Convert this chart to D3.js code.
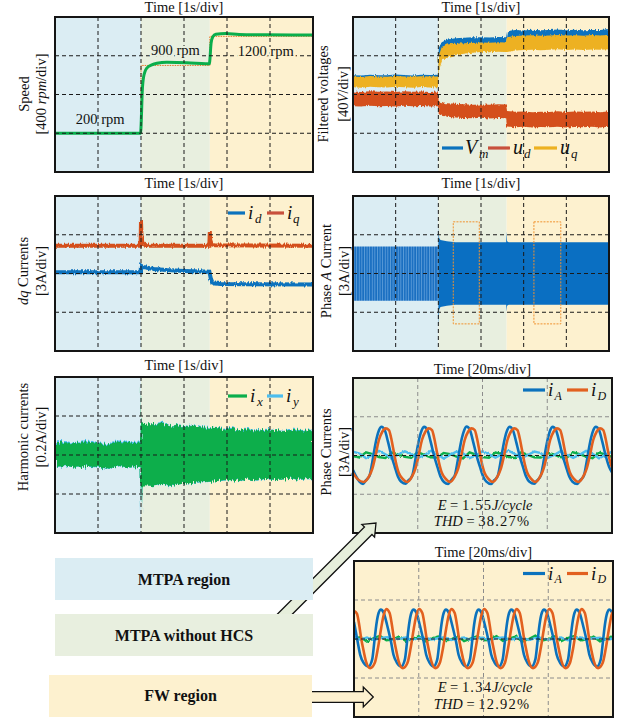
<!DOCTYPE html>
<html>
<head>
<meta charset="utf-8">
<script src="https://cdn.jsdelivr.net/npm/d3@7"></script>
<style>
  body { margin: 0; background: #fff; }
  svg { display: block; }
  text { font-family: "Liberation Serif", "Times New Roman", serif; fill: #111; }
</style>
</head>
<body>
<svg id="fig" width="623" height="721"></svg>
<script>
// ---------- operating regions (time in s) ----------
const regionBounds = [0, 2, 3.6, 6];
const regionNames = ["MTPA region", "MTPA without HCS", "FW region"];
const regionColors = ["#dbedf3", "#e8efdf", "#fdf1cf"];

const secDivs = [1, 2, 3, 4, 5];
const msDivs = [20, 40, 60];

// ---------- speed [rpm] ----------
const speedT = [0, 1.99, 2.0, 2.03, 2.06, 2.13, 2.25, 2.37, 2.6, 3.07, 3.5, 3.59, 3.6, 3.63, 3.67, 3.74, 3.97, 4.28, 4.9, 6.0];
const speedV = [200, 200, 260, 640, 780, 870, 905, 922, 932, 928, 918, 917, 950, 1130, 1195, 1222, 1230, 1220, 1216, 1214];
const speedRefT = [0, 2, 3.6, 6];
const speedRefV = [200, 900, 1200, 1200];
const speedLabels = ["200 rpm", "900 rpm", "1200 rpm"];

// ---------- filtered voltages [V] ----------
const tV = [0, 0.2, 0.4, 0.6, 0.8, 1.0, 1.2, 1.4, 1.6, 1.8, 1.99, 2.01, 2.08, 2.2, 2.4, 2.6, 2.8, 3.0, 3.2, 3.4, 3.59, 3.61, 3.8, 4.0, 4.2, 4.4, 4.6, 4.8, 5.0, 5.2, 5.4, 5.6, 5.8, 6.0];
const vmHi = [100, 99.5, 100.5, 100, 99.8, 100.6, 100.2, 99.7, 100.4, 100.1, 100.3, 128, 134, 136.5, 138, 138.5, 139, 139.2, 138.8, 139.3, 139, 145, 146.5, 146, 146.8, 146.3, 146.5, 147, 146.4, 146.8, 146.2, 146.7, 146.5, 147.5];
const vmLo = [91, 90.5, 91.2, 90.8, 91, 91.3, 90.7, 91, 91.2, 90.9, 91, 118, 126, 130, 131.5, 132, 132.5, 133, 132.6, 132.8, 132.5, 138, 139.5, 139.8, 140, 139.6, 140.2, 139.8, 140, 139.7, 140.1, 139.9, 140, 140.2];
const uqHi = [98.5, 98, 99, 98.7, 98.3, 99.1, 98.6, 98.2, 98.9, 98.5, 98.7, 120, 129, 131.5, 132.5, 133, 133.5, 133.8, 133.4, 134, 133.6, 139, 140.5, 140.8, 141.2, 140.6, 141, 141.4, 140.9, 141.2, 140.7, 141.3, 141, 141.6];
const uqLo = [87.5, 87, 88, 87.6, 87.2, 88, 87.4, 87, 87.8, 87.3, 87.6, 105, 115, 118.5, 120.5, 122, 123, 123.8, 123.5, 124.2, 124, 124, 125.5, 126, 126.3, 125.8, 126.2, 126.6, 126, 126.4, 125.9, 126.5, 126.2, 126.8];
const udHi = [83, 82.5, 83.4, 82.8, 83.1, 82.6, 83.3, 82.9, 83.2, 82.7, 83, 73, 72, 71, 70.5, 70, 69.5, 69.8, 69.4, 70, 69.6, 63, 62.2, 62.5, 61.8, 62.3, 62, 62.6, 61.9, 62.4, 62.1, 62.5, 61.8, 62.6];
const udLo = [68, 67.5, 68.3, 67.8, 68.1, 67.6, 68.4, 67.9, 68.2, 67.7, 68, 60, 58, 57, 56.2, 55.8, 55.5, 55.9, 55.3, 55.7, 55.5, 47, 46.2, 46.6, 45.9, 46.4, 46.1, 46.7, 46, 46.5, 46.2, 46.6, 46, 46.8];

// ---------- dq currents [A] ----------
const iqT = [0, 1.99, 2.0, 2.01, 2.03, 2.08, 2.2, 3.59, 3.6, 3.61, 3.64, 3.7, 6.0];
const iqV = [2.15, 2.15, 4.1, 3.0, 2.5, 2.25, 2.15, 2.15, 3.2, 2.6, 2.3, 2.18, 2.15];
const idT = [0, 1.99, 2.0, 2.05, 2.3, 2.6, 3.0, 3.59, 3.62, 3.66, 3.72, 3.85, 4.5, 6.0];
const idV = [0.09, 0.09, 0.6, 0.5, 0.35, 0.27, 0.2, 0.14, -0.35, -0.7, -0.78, -0.82, -0.83, -0.85];

// ---------- phase A current envelope [A] ----------
const paT1 = [0, 0.5, 1.0, 1.5, 2.0];
const paHi1 = [2.1, 2.1, 2.1, 2.1, 2.1];
const paLo1 = [-2.1, -2.1, -2.1, -2.1, -2.1];
const paT2 = [2.0, 2.005, 2.02, 2.05, 2.2, 2.4, 3.59, 3.6, 3.61, 3.65, 6.0];
const paHi2 = [2.1, 3.6, 2.75, 2.6, 2.5, 2.42, 2.42, 3.25, 2.5, 2.42, 2.42];
const paLo2 = [-2.1, -4.1, -2.8, -2.6, -2.5, -2.42, -2.42, -2.96, -2.5, -2.42, -2.42];
const zoomWindows = [[2.35, 2.96], [4.24, 4.87]];
const zoomWindowI = [-3.9, 4.0];

// ---------- harmonic currents [A] ----------
const hT = [0, 0.25, 0.5, 0.75, 1.0, 1.25, 1.5, 1.75, 1.99, 2.0, 2.01, 2.1, 2.3, 2.5, 2.7, 2.9, 3.1, 3.3, 3.5, 3.7, 3.9, 4.1, 4.3, 4.5, 4.7, 4.9, 5.1, 5.3, 5.5, 5.7, 5.9, 6.0];
const ixHi = [0.06, 0.065, 0.058, 0.07, 0.062, 0.055, 0.068, 0.06, 0.064, 0.39, 0.17, 0.16, 0.155, 0.16, 0.15, 0.155, 0.148, 0.15, 0.14, 0.138, 0.13, 0.135, 0.128, 0.132, 0.125, 0.13, 0.128, 0.122, 0.13, 0.125, 0.128, 0.126];
const ixLo = [-0.06, -0.055, -0.065, -0.058, -0.062, -0.07, -0.056, -0.064, -0.06, -0.26, -0.16, -0.155, -0.16, -0.15, -0.158, -0.15, -0.145, -0.14, -0.138, -0.135, -0.13, -0.128, -0.132, -0.125, -0.13, -0.122, -0.128, -0.125, -0.12, -0.126, -0.122, -0.124];
const iyHi = [0.07, 0.072, 0.06, 0.078, 0.065, 0.06, 0.075, 0.066, 0.07, 0.2, 0.16, 0.155, 0.158, 0.165, 0.15, 0.158, 0.15, 0.152, 0.145, 0.14, 0.135, 0.14, 0.13, 0.138, 0.128, 0.134, 0.13, 0.125, 0.136, 0.128, 0.132, 0.128];
const iyLo = [-0.062, -0.058, -0.066, -0.06, -0.064, -0.072, -0.058, -0.066, -0.062, -0.31, -0.15, -0.15, -0.162, -0.152, -0.16, -0.15, -0.146, -0.142, -0.14, -0.136, -0.132, -0.13, -0.134, -0.126, -0.132, -0.124, -0.13, -0.126, -0.122, -0.128, -0.124, -0.126];

// ---------- phase currents, MTPA without HCS [ms, A] ----------
const iaMid = [[0,-1.12],[1.0,-1.64],[2.0,-2.03],[3.1,-2.2],[3.9,-1.95],[4.6,-1.77],[5.2,-1.5],[5.8,-0.74],[6.5,0.3],[7.3,1.33],[8.05,1.97],[8.8,2.23],[9.8,1.97],[10.8,1.07],[11.8,0.04],[12.9,-0.87],[13.9,-1.64],[14.9,-2.03],
  [16.3,-2.18],[17.1,-1.93],[17.8,-1.78],[18.4,-1.48],[19.0,-0.72],[19.7,0.32],[20.5,1.35],[21.25,1.98],[22.0,2.22],[23.0,1.95],[24.0,1.05],[25.0,0.02],[26.1,-0.9],[27.1,-1.66],[28.1,-2.05],
  [29.4,-2.2],[30.2,-1.96],[30.9,-1.75],[31.5,-1.5],[32.1,-0.76],[32.8,0.28],[33.6,1.32],[34.35,1.96],[35.1,2.24],[36.1,1.98],[37.1,1.08],[38.1,0.05],[39.2,-0.86],[40.2,-1.62],[41.2,-2.02],
  [42.7,-2.21],[43.5,-1.94],[44.2,-1.78],[44.8,-1.52],[45.4,-0.75],[46.1,0.3],[46.9,1.34],[47.65,1.97],[48.4,2.23],[49.4,1.96],[50.4,1.06],[51.4,0.03],[52.5,-0.88],[53.5,-1.65],[54.5,-2.04],
  [56.0,-2.19],[56.8,-1.95],[57.5,-1.76],[58.1,-1.49],[58.7,-0.73],[59.4,0.31],[60.2,1.33],[60.95,1.98],[61.7,2.22],[62.7,1.97],[63.7,1.07],[64.7,0.04],[65.8,-0.87],[66.8,-1.63],[67.8,-2.03],
  [69.3,-2.2],[70.1,-1.95],[70.8,-1.77],[71.4,-1.5],[72.0,-0.74],[72.7,0.3],[73.5,1.33],[74.25,1.97],[75.0,2.23],[76.0,1.97],[77.0,1.07],[78.0,0.04],[79.1,-0.87],[80.0,-1.3]];
const idMid = [[0,-1.35],[1.5,-1.85],[3.3,-2.05],[4.9,-1.64],[6.0,-0.99],[7.0,0.04],[8.0,1.2],[9.05,1.84],[10.1,2.1],[11.1,1.97],[11.8,1.33],[12.4,0.56],[13.2,-0.48],[14.2,-1.38],[15.2,-1.77],
  [16.8,-2.05],[18.2,-1.64],[19.3,-0.99],[20.3,0.04],[21.3,1.2],[22.35,1.84],[23.4,2.1],[24.4,1.97],[25.1,1.33],[25.7,0.56],[26.5,-0.48],[27.5,-1.38],[28.5,-1.77],
  [30.0,-2.05],[31.4,-1.64],[32.5,-0.99],[33.5,0.04],[34.5,1.2],[35.55,1.84],[36.6,2.1],[37.6,1.97],[38.3,1.33],[38.9,0.56],[39.7,-0.48],[40.7,-1.38],[41.7,-1.77],
  [43.2,-2.05],[44.6,-1.64],[45.7,-0.99],[46.7,0.04],[47.7,1.2],[48.75,1.84],[49.8,2.1],[50.8,1.97],[51.5,1.33],[52.1,0.56],[52.9,-0.48],[53.9,-1.38],[54.9,-1.77],
  [56.4,-2.05],[57.8,-1.64],[58.9,-0.99],[59.9,0.04],[60.9,1.2],[61.95,1.84],[63.0,2.1],[64.0,1.97],[64.7,1.33],[65.3,0.56],[66.1,-0.48],[67.1,-1.38],[68.1,-1.77],
  [69.7,-2.05],[71.1,-1.64],[72.2,-0.99],[73.2,0.04],[74.2,1.2],[75.25,1.84],[76.3,2.1],[77.3,1.97],[78.0,1.33],[78.6,0.56],[79.4,-0.48],[80.0,-0.9]];
const msGrid2 = [0,2,4,6,8,10,12,14,16,18,20,22,24,26,28,30,32,34,36,38,40,42,44,46,48,50,52,54,56,58,60,62,64,66,68,70,72,74,76,78,80];
const iyMid = [0.30, 0.15, -0.20, 0.05, 0.35, 0.10, -0.22, 0.08, 0.32, 0.12, -0.18, 0.02, 0.36, 0.14, -0.24, 0.06, 0.30, 0.16, -0.20, 0.00, 0.34, 0.10, -0.16, 0.08, 0.38, 0.12, -0.22, 0.04, 0.30, 0.18, -0.20, 0.02, 0.32, 0.10, -0.18, 0.06, 0.36, 0.14, -0.22, 0.04, 0.30];
const ixMid = [-0.05, -0.15, 0.25, 0.10, -0.12, -0.20, 0.22, 0.08, -0.10, -0.18, 0.26, 0.05, -0.14, -0.16, 0.20, 0.10, -0.08, -0.22, 0.24, 0.06, -0.12, -0.18, 0.22, 0.12, -0.10, -0.20, 0.26, 0.04, -0.14, -0.16, 0.20, 0.08, -0.12, -0.18, 0.24, 0.10, -0.08, -0.20, 0.22, 0.06, -0.10];

// ---------- phase currents, FW region [ms, A] ----------
const iaFw = [[0,1.3],[1.1,-0.18],[1.9,-1.2],[3.0,-1.85],[4.5,-2.11],[5.6,-1.59],[6.3,-0.18],[6.9,1.10],[7.6,2.0],[8.3,2.26],[9.2,2.0],[10.2,1.1],[11.4,-0.18],[12.2,-1.21],[13.3,-1.85],[14.6,-2.11],
  [15.7,-1.59],[16.4,-0.18],[17.0,1.10],[17.7,2.0],[18.4,2.26],[19.3,2.0],[20.3,1.1],[21.5,-0.18],[22.3,-1.21],[23.4,-1.85],[24.6,-2.11],
  [25.7,-1.59],[26.4,-0.18],[27.0,1.10],[27.7,2.0],[28.4,2.26],[29.3,2.0],[30.3,1.1],[31.5,-0.18],[32.3,-1.21],[33.4,-1.85],[34.7,-2.11],
  [35.8,-1.59],[36.5,-0.18],[37.1,1.10],[37.8,2.0],[38.5,2.26],[39.4,2.0],[40.4,1.1],[41.6,-0.18],[42.4,-1.21],[43.5,-1.85],[44.8,-2.11],
  [45.9,-1.59],[46.6,-0.18],[47.2,1.1],[47.9,2.0],[48.6,2.26],[49.5,2.0],[50.5,1.1],[51.7,-0.18],[52.5,-1.21],[53.6,-1.85],[54.9,-2.11],
  [56.0,-1.59],[56.7,-0.18],[57.3,1.1],[58.0,2.0],[58.7,2.26],[59.6,2.0],[60.6,1.1],[61.8,-0.18],[62.6,-1.21],[63.7,-1.85],[65.0,-2.11],
  [66.1,-1.59],[66.8,-0.18],[67.4,1.1],[68.1,2.0],[68.8,2.26],[69.7,2.0],[70.7,1.1],[71.9,-0.18],[72.7,-1.21],[73.8,-1.85],[75.1,-2.11],
  [76.2,-1.59],[76.9,-0.18],[77.5,1.1],[78.2,2.0],[78.9,2.26],[79.8,2.0],[80.0,1.9]];
const idFw = [[0,2.15],[0.9,1.95],[1.6,1.1],[2.2,0.08],[3.0,-0.95],[3.7,-1.72],[5.0,-2.24],
  [6.4,-1.85],[7.4,-0.69],[8.4,0.85],[9.2,1.87],[10.0,2.30],[11.0,2.0],[11.7,1.1],[12.3,0.08],[13.1,-0.95],[13.8,-1.72],[15.1,-2.24],
  [16.5,-1.85],[17.5,-0.69],[18.5,0.85],[19.3,1.87],[20.1,2.30],[21.1,2.0],[21.8,1.1],[22.4,0.08],[23.2,-0.95],[23.9,-1.72],[25.2,-2.24],
  [26.5,-1.85],[27.5,-0.69],[28.5,0.85],[29.3,1.87],[30.1,2.3],[31.1,2.0],[31.8,1.1],[32.4,0.08],[33.2,-0.95],[33.9,-1.72],[35.2,-2.24],
  [36.6,-1.85],[37.6,-0.69],[38.6,0.85],[39.4,1.87],[40.2,2.3],[41.2,2.0],[41.9,1.1],[42.5,0.08],[43.3,-0.95],[44.0,-1.72],[45.3,-2.24],
  [46.6,-1.85],[47.6,-0.69],[48.6,0.85],[49.4,1.87],[50.2,2.3],[51.2,2.0],[51.9,1.1],[52.5,0.08],[53.3,-0.95],[54.0,-1.72],[55.3,-2.24],
  [56.7,-1.85],[57.7,-0.69],[58.7,0.85],[59.5,1.87],[60.3,2.3],[61.3,2.0],[62.0,1.1],[62.6,0.08],[63.4,-0.95],[64.1,-1.72],[65.4,-2.24],
  [66.7,-1.85],[67.7,-0.69],[68.7,0.85],[69.5,1.87],[70.3,2.3],[71.3,2.0],[72.0,1.1],[72.6,0.08],[73.4,-0.95],[74.1,-1.72],[75.4,-2.24],
  [76.8,-1.85],[77.8,-0.69],[78.8,0.85],[79.6,1.87],[80.0,2.1]];
const iyFw = [0.10, -0.05, 0.12, -0.08, 0.06, 0.14, -0.06, 0.02, 0.12, -0.10, 0.08, 0.10, -0.04, 0.06, 0.14, -0.08, 0.04, 0.12, -0.06, 0.08, 0.10, -0.10, 0.06, 0.12, -0.04, 0.02, 0.14, -0.08, 0.06, 0.10, -0.06, 0.04, 0.12, -0.10, 0.08, 0.12, -0.04, 0.06, 0.10, -0.08, 0.04];
const ixFw = [0.00, 0.15, -0.20, 0.05, 0.25, -0.10, -0.05, 0.20, -0.15, 0.00, 0.22, -0.18, 0.05, 0.18, -0.12, -0.04, 0.24, -0.16, 0.02, 0.20, -0.10, -0.06, 0.22, -0.14, 0.04, 0.18, -0.20, 0.00, 0.25, -0.12, -0.02, 0.20, -0.16, 0.06, 0.22, -0.10, -0.04, 0.18, -0.18, 0.02, 0.20];

const energyMid = ["1.55", "38.27%"];
const energyFw = ["1.34", "12.92%"];

// ---------- colours ----------
const C = { blue: "#0b72bd", orange: "#e2601f", red: "#d4501c", yellow: "#edb120",
            green: "#0aae4c", cyan: "#4cbdee", phaseA: "#0a6fc2" };

// ================= drawing =================
const svg = d3.select("#fig");
svg.append("rect").attr("width", 623).attr("height", 721).attr("fill", "#fff");
const defs = svg.append("defs");

function jitterFilter(id, scale, fx, fy) {
  const f = defs.append("filter").attr("id", id).attr("filterUnits", "userSpaceOnUse")
    .attr("x", 0).attr("y", 0).attr("width", 623).attr("height", 721);
  f.append("feTurbulence").attr("type", "fractalNoise").attr("baseFrequency", `${fx} ${fy}`)
    .attr("numOctaves", 2).attr("seed", 7).attr("result", "n");
  f.append("feDisplacementMap").attr("in", "SourceGraphic").attr("in2", "n").attr("scale", scale)
    .attr("xChannelSelector", "G").attr("yChannelSelector", "R");
}
jitterFilter("jitS", 4, 0.9, 0.08);
jitterFilter("jitL", 8, 0.9, 0.06);
jitterFilter("jitT", 2.5, 0.5, 0.1);

// dense switching ripple of the phase current at low speed
const pat = defs.append("pattern").attr("id", "stripes").attr("patternUnits", "userSpaceOnUse")
  .attr("width", 2.6).attr("height", 10);
pat.append("rect").attr("width", 2.6).attr("height", 10).attr("fill", "#1a6fc1");
pat.append("rect").attr("width", 0.9).attr("height", 10).attr("fill", "#5d9dd9");

let clipN = 0;
function makePanel(p) {
  const g = svg.append("g");
  const x = d3.scaleLinear().domain(p.xd).range([p.x0, p.x1]);
  const y = d3.scaleLinear().domain(p.yd).range([p.y1, p.y0]);
  const id = "clip" + (++clipN);
  defs.append("clipPath").attr("id", id).append("rect")
    .attr("x", p.x0).attr("y", p.y0).attr("width", p.x1 - p.x0).attr("height", p.y1 - p.y0);

  const bg = g.append("g");
  if (p.fill) {
    bg.append("rect").attr("x", p.x0).attr("y", p.y0).attr("width", p.x1 - p.x0)
      .attr("height", p.y1 - p.y0).attr("fill", p.fill);
  } else {
    bg.selectAll("rect").data(regionColors).join("rect")
      .attr("x", (d, i) => x(regionBounds[i]))
      .attr("width", (d, i) => x(regionBounds[i + 1]) - x(regionBounds[i]))
      .attr("y", p.y0).attr("height", p.y1 - p.y0).attr("fill", d => d);
  }
  const plot = g.append("g").attr("clip-path", `url(#${id})`);
  const grid = g.append("g").attr("fill", "none").attr("stroke-width", 1).attr("stroke-dasharray", "4,3");
  grid.selectAll("line.v").data(p.xt).join("line").attr("class", "v")
    .attr("x1", d => x(d)).attr("x2", d => x(d)).attr("y1", p.y0).attr("y2", p.y1)
    .attr("stroke", p.light ? "#8c8c8c" : "#1a1a1a");
  grid.selectAll("line.h").data(p.yt).join("line").attr("class", "h")
    .attr("y1", d => y(d)).attr("y2", d => y(d)).attr("x1", p.x0).attr("x2", p.x1)
    .attr("stroke", d => (p.light && d !== 0) ? "#8c8c8c" : "#1a1a1a");
  const over = g.append("g");
  g.append("rect").attr("x", p.x0).attr("y", p.y0).attr("width", p.x1 - p.x0)
    .attr("height", p.y1 - p.y0).attr("fill", "none").attr("stroke", "#151515").attr("stroke-width", 2);

  g.append("text").attr("x", (p.x0 + p.x1) / 2).attr("y", p.titleY)
    .attr("text-anchor", "middle").attr("font-size", 14.5).text(p.title);

  if (p.ylab) {
    p.ylab.forEach((parts, li) => {
      const t = g.append("text").attr("font-size", 14.5).attr("text-anchor", "middle")
        .attr("transform", `translate(${p.ylabX[li]},${p.ylabY}) rotate(-90)`);
      parts.forEach(([s, it]) => t.append("tspan").attr("font-style", it ? "italic" : null).text(s));
    });
  }
  return { g, x, y, plot, grid, over };
}

function legendItem(g, x1, x2, ly, color, sym, sub, symX, subX, big, small) {
  g.append("line").attr("x1", x1).attr("x2", x2).attr("y1", ly).attr("y2", ly)
    .attr("stroke", color).attr("stroke-width", 3.2);
  g.append("text").attr("x", symX).attr("y", ly + big * 0.32).attr("font-size", big)
    .attr("font-style", "italic").text(sym);
  g.append("text").attr("x", subX).attr("y", ly + big * 0.32 + small * 0.3).attr("font-size", small)
    .attr("font-style", "italic").text(sub);
}

const bandArea = (P) => d3.area().x(d => P.x(d.t)).y0(d => P.y(d.lo)).y1(d => P.y(d.hi));
const zipBand = (t, hi, lo) => t.map((v, i) => ({ t: v, hi: hi[i], lo: lo[i] }));

// ---- Panel 1: speed ----
const P1 = makePanel({ x0: 55, x1: 313, y0: 17, y1: 172, xd: [0, 6], yd: [-200, 1400],
  xt: secDivs, yt: [200, 600, 1000], title: "Time [1s/div]", titleY: 12,
  ylab: [[["Speed", false]], [["[400 ", false], ["rpm", true], ["/div]", false]]], ylabX: [28.5, 46], ylabY: 94 });
P1.plot.append("path").datum(speedRefT.map((t, i) => [t, speedRefV[i]]))
  .attr("d", d3.line().x(d => P1.x(d[0])).y(d => P1.y(d[1])).curve(d3.curveStepAfter))
  .attr("fill", "none").attr("stroke", "#e8782a").attr("stroke-width", 1).attr("stroke-dasharray", "1.5,1");
P1.plot.append("path").datum(speedT.map((t, i) => [t, speedV[i]]))
  .attr("d", d3.line().x(d => P1.x(d[0])).y(d => P1.y(d[1])).curve(d3.curveMonotoneX))
  .attr("fill", "none").attr("stroke", C.green).attr("stroke-width", 3);
[[1.05, 124, 0], [2.8, 55, 1], [4.9, 55.5, 2]].forEach(([tx, by, k]) => {
  P1.over.append("text").attr("x", P1.x(tx)).attr("y", by).attr("text-anchor", "middle")
    .attr("font-size", 14.5).attr("paint-order", "stroke").attr("stroke", regionColors[k])
    .attr("stroke-width", k ? 4 : 0).text(speedLabels[k]);
});

// ---- Panel 2: filtered voltages ----
const P2 = makePanel({ x0: 353, x1: 609, y0: 17, y1: 172, xd: [0, 6], yd: [0, 160],
  xt: secDivs, yt: [40, 80, 120], title: "Time [1s/div]", titleY: 12,
  ylab: [[["Filtered voltages", false]], [["[40", false], ["V", true], ["/div]", false]]], ylabX: [328, 347.5], ylabY: 94 });
[[vmHi, vmLo, C.blue], [uqHi, uqLo, C.yellow], [udHi, udLo, C.red]].forEach(([hi, lo, col]) => {
  P2.plot.append("path").datum(zipBand(tV, hi, lo)).attr("d", bandArea(P2))
    .attr("fill", col).attr("filter", "url(#jitS)");
});
legendItem(P2.over, 442, 463, 148, C.blue, "V", "m", 465, 479, 20, 13);
legendItem(P2.over, 488, 510, 148, "#c8503c", "u", "d", 513, 524, 20, 13);
legendItem(P2.over, 534, 557, 148, C.yellow, "u", "q", 560, 571, 20, 13);

// ---- Panel 3: dq currents ----
const P3 = makePanel({ x0: 55, x1: 313, y0: 196, y1: 351, xd: [0, 6], yd: [-6, 6],
  xt: secDivs, yt: [-3, 0, 3], title: "Time [1s/div]", titleY: 188,
  ylab: [[["dq", true], [" Currents", false]], [["[3A/div]", false]]], ylabX: [28, 46], ylabY: 271 });
[[iqT, iqV, C.red], [idT, idV, C.blue]].forEach(([t, v, col]) => {
  P3.plot.append("path").datum(t.map((d, i) => [d, v[i]]))
    .attr("d", d3.line().x(d => P3.x(d[0])).y(d => P3.y(d[1])))
    .attr("fill", "none").attr("stroke", col).attr("stroke-width", 4).attr("filter", "url(#jitS)");
});
legendItem(P3.over, 228, 245, 213, C.blue, "i", "d", 248, 255, 19, 13);
legendItem(P3.over, 267, 284, 213, "#c8503c", "i", "q", 287, 293, 19, 13);

// ---- Panel 4: phase A current ----
const P4 = makePanel({ x0: 353, x1: 609, y0: 196, y1: 351, xd: [0, 6], yd: [-6, 6],
  xt: secDivs, yt: [-3, 0, 3], title: "Time [1s/div]", titleY: 188,
  ylab: [[["Phase ", false], ["A", true], [" Current", false]], [["[3A/div]", false]]], ylabX: [330.5, 348.5], ylabY: 271 });
P4.plot.append("path").datum(zipBand(paT1, paHi1, paLo1)).attr("d", bandArea(P4)).attr("fill", "url(#stripes)");
P4.plot.append("path").datum(zipBand(paT2, paHi2, paLo2)).attr("d", bandArea(P4)).attr("fill", C.phaseA);
P4.over.selectAll("rect").data(zoomWindows).join("rect")
  .attr("x", d => P4.x(d[0])).attr("width", d => P4.x(d[1]) - P4.x(d[0]))
  .attr("y", P4.y(zoomWindowI[1])).attr("height", P4.y(zoomWindowI[0]) - P4.y(zoomWindowI[1]))
  .attr("fill", "none").attr("stroke", "#f0922e").attr("stroke-width", 1).attr("stroke-dasharray", "2,1.2");

// ---- Panel 5: harmonic currents ----
const P5 = makePanel({ x0: 55, x1: 313, y0: 377, y1: 533, xd: [0, 6], yd: [-0.4, 0.4],
  xt: secDivs, yt: [-0.2, 0, 0.2], title: "Time [1s/div]", titleY: 369.5,
  ylab: [[["Harmonic currents", false]], [["[0.2A/div]", false]]], ylabX: [28, 46], ylabY: 437 });
P5.plot.append("path").datum(zipBand(hT, iyHi, iyLo)).attr("d", bandArea(P5)).attr("fill", C.cyan).attr("filter", "url(#jitL)");
P5.plot.append("path").datum(zipBand(hT, ixHi, ixLo)).attr("d", bandArea(P5)).attr("fill", C.green).attr("filter", "url(#jitL)");
legendItem(P5.over, 228, 247, 396, C.green, "i", "x", 250, 257, 19, 13);
legendItem(P5.over, 267, 283, 396, C.cyan, "i", "y", 286, 293, 19, 13);

// ---- Panels 6 and 7: phase currents over 80 ms ----
function phasePanel(spec, ia, id, iy, ix, energy, legY) {
  const P = makePanel(Object.assign({ xd: [0, 80], yd: [-6, 6], xt: msDivs, yt: [-3, 0, 3],
    title: "Time [20ms/div]", light: true }, spec));
  const ln = d3.line().x(d => P.x(d[0])).y(d => P.y(d[1]));
  P.plot.append("path").datum(msGrid2.map((t, i) => [t, ix[i]])).attr("d", ln)
    .attr("fill", "none").attr("stroke", C.green).attr("stroke-width", 2.4).attr("filter", "url(#jitT)");
  P.plot.append("path").datum(msGrid2.map((t, i) => [t, iy[i]])).attr("d", ln)
    .attr("fill", "none").attr("stroke", C.cyan).attr("stroke-width", 2.4).attr("filter", "url(#jitT)");
  const sm = d3.line().x(d => P.x(d[0])).y(d => P.y(d[1])).curve(d3.curveMonotoneX);
  P.plot.append("path").datum(ia).attr("d", sm).attr("fill", "none").attr("stroke", C.blue).attr("stroke-width", 2.6);
  P.plot.append("path").datum(id).attr("d", sm).attr("fill", "none").attr("stroke", C.orange).attr("stroke-width", 2.6);
  legendItem(P.over, 523, 545, legY, C.blue, "i", "A", 548, 554.5, 19, 12);
  legendItem(P.over, 567, 588, legY, C.orange, "i", "D", 591, 597.5, 19, 12);
  const cx = 485;
  const e = P.over.append("text").attr("x", cx).attr("y", spec.eY).attr("text-anchor", "middle").attr("font-size", 14.5);
  e.append("tspan").attr("font-style", "italic").text("E");
  e.append("tspan").text(" = ");
  e.append("tspan").attr("letter-spacing", 1.2).text(energy[0]);
  e.append("tspan").attr("font-style", "italic").text("J/cycle");
  const h = P.over.append("text").attr("x", cx - 3).attr("y", spec.eY + 16.5).attr("text-anchor", "middle").attr("font-size", 14.5);
  h.append("tspan").attr("font-style", "italic").text("THD");
  h.append("tspan").text(" = ");
  h.append("tspan").attr("letter-spacing", 1.2).text(energy[1]);
  return P;
}
phasePanel({ x0: 353, x1: 612, y0: 378, y1: 533, titleY: 373.5, fill: regionColors[1],
  ylab: [[["Phase Currents", false]], [["[3A/div]", false]]], ylabX: [331, 349], ylabY: 452, eY: 509.5 },
  iaMid, idMid, iyMid, ixMid, energyMid, 390);
phasePanel({ x0: 354, x1: 613, y0: 561, y1: 717, titleY: 556.5, fill: regionColors[2], eY: 692 },
  iaFw, idFw, iyFw, ixFw, energyFw, 573.5);

// ---- hollow arrows linking regions to the zoomed panels ----
function hollowArrow(tail, tip, h, w, s, fill) {
  const L = Math.hypot(tip[0] - tail[0], tip[1] - tail[1]);
  const u = [(tip[0] - tail[0]) / L, (tip[1] - tail[1]) / L];
  const n = [-u[1], u[0]];
  const B = [tip[0] - h * u[0], tip[1] - h * u[1]];
  const pt = (p, k) => [p[0] + k * n[0], p[1] + k * n[1]];
  const pts = [pt(tail, s), pt(B, s), pt(B, w), tip, pt(B, -w), pt(B, -s), pt(tail, -s)];
  svg.append("path").attr("d", d3.line()(pts) + "Z").attr("fill", fill)
    .attr("stroke", "#111").attr("stroke-width", 1.3).attr("stroke-linejoin", "miter");
}
hollowArrow([262, 637], [376, 523], 11, 9, 5.3, "#e6eedb");
hollowArrow([300, 697], [373.3, 697], 10, 10, 5.3, "#fdf0cf");

// ---- region key ----
const keyBoxes = [[55, 313, 558, 600], [55, 313, 614, 656], [49, 312, 675, 717]];
const keyBaseline = [585, 641, 701];
svg.append("g").selectAll("g").data(regionNames).join("g").each(function (name, i) {
  const [bx0, bx1, by0, by1] = keyBoxes[i];
  const k = d3.select(this);
  k.append("rect").attr("x", bx0).attr("y", by0).attr("width", bx1 - bx0).attr("height", by1 - by0)
    .attr("fill", regionColors[i]);
  k.append("text").attr("x", (bx0 + bx1) / 2).attr("y", keyBaseline[i]).attr("text-anchor", "middle")
    .attr("font-size", 16).attr("font-weight", "bold").text(name);
});
</script>
</body>
</html>
